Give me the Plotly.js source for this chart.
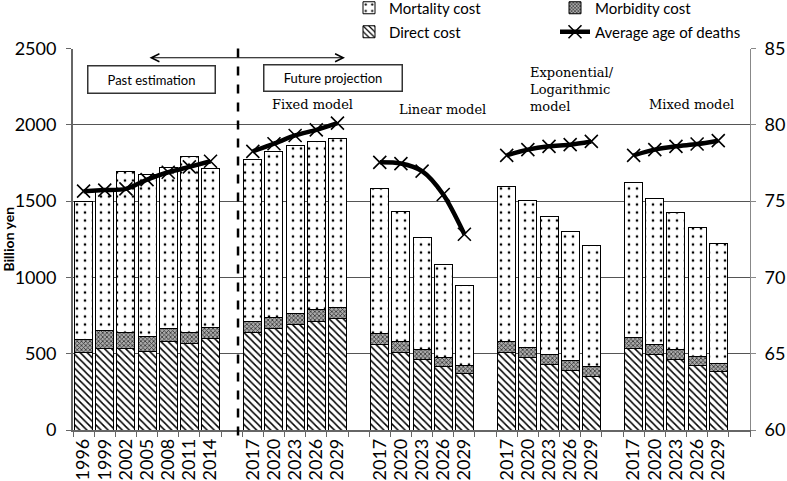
<!DOCTYPE html>
<html><head><meta charset="utf-8">
<script src="https://cdn.plot.ly/plotly-3.0.1.min.js"></script>
<style>html,body{margin:0;padding:0;background:#fff}#chart{width:787px;height:481px}</style>
</head><body><div id="chart"></div>
<script>
// Categories: past estimation years, then four projection models (2017-2029 each)
const yearLabels = ['1996','1999','2002','2005','2008','2011','2014',
  '2017','2020','2023','2026','2029',
  '2017','2020','2023','2026','2029',
  '2017','2020','2023','2026','2029',
  '2017','2020','2023','2026','2029'];
const groupSizes = [7, 5, 5, 5, 5];
const groupNames = ['Past estimation', 'Fixed model', 'Linear model', 'Exponential/<br>Logarithmic<br>model', 'Mixed model'];

// Billion yen
const directCost = [506,533,533,515,580,565,598,
  637,667,691,713,728,
  559,511,463,417,370,
  507,472,430,391,352,
  533,493,463,422,385];
const morbidityCost = [85,119,104,98,87,72,72,
  74,72,74,74,76,
  71,72,63,57,54,
  76,67,66,66,61,
  72,66,63,61,54];
const mortalityCost = [909,913,1059,1059,1055,1153,1041,
  1061,1083,1099,1103,1109,
  953,852,735,613,526,
  1015,965,906,847,794,
  1015,959,902,843,783];
// Years
const avgAgeDeaths = [75.65,75.72,75.80,76.41,76.89,77.24,77.61,
  78.26,78.76,79.30,79.67,80.11,
  77.54,77.46,76.96,75.43,72.83,
  78.00,78.37,78.59,78.70,78.91,
  78.00,78.37,78.59,78.74,78.96];

// slot positions (one empty slot between groups)
const pos = [];
const lineX = [], lineY = [];
let slot = 0, k = 0;
groupSizes.forEach(function(n, g){
  for (let i = 0; i < n; i++) { pos.push(slot); lineX.push(slot); lineY.push(avgAgeDeaths[k]); slot++; k++; }
  if (g < groupSizes.length - 1) { lineX.push(slot); lineY.push(null); }
  slot++;
});
const nSlots = slot - 1;

const FONT = 'Lato, "Open Sans", sans-serif';
const barLine = {color: '#000', width: 1};

const traces = [
  {type:'bar', name:'Direct cost', x:pos, y:directCost, legend:'legend2', legendrank:1,
   marker:{color:'#fff', line:barLine, pattern:{shape:'\\', size:5, solidity:0.3, fgcolor:'#000', bgcolor:'#fff'}}},
  {type:'bar', name:'Morbidity cost', x:pos, y:morbidityCost, legend:'legend', legendrank:2,
   marker:{color:'#fff', line:barLine, pattern:{shape:'x', size:3, solidity:0.45, fgcolor:'#333', bgcolor:'#aaa'}}},
  {type:'bar', name:'Mortality cost', x:pos, y:mortalityCost, legend:'legend', legendrank:1,
   marker:{color:'#fff', line:barLine, pattern:{shape:'.', size:8, solidity:0.09, fgcolor:'#000', bgcolor:'#fff'}}},
  {type:'scatter', mode:'lines+markers', name:'Average age of deaths', x:lineX, y:lineY, yaxis:'y2',
   legend:'legend2', legendrank:2, connectgaps:false,
   line:{color:'#000', width:4.5, shape:'spline', smoothing:0.8},
   marker:{symbol:'x-thin', size:13, color:'#000', line:{color:'#000', width:1.6}}}
];

function px2x(p){ return (p - 73) / 677; }
function px2y(p){ return (430 - p) / 383.3; }

const serif = {family:'"DejaVu Serif", serif', size:13, color:'#000'};
const base = {xref:'paper', yref:'paper', showarrow:false, xanchor:'center', yanchor:'middle'};
const annotations = [
  Object.assign({}, base, {x:px2x(151), y:px2y(78), text:'Past estimation',
   font:{family:FONT, size:13, color:'#000'}, bordercolor:'#333', borderwidth:1.5, borderpad:0, width:126, height:26}),
  Object.assign({}, base, {x:px2x(332.5), y:px2y(76.5), text:'Future projection',
   font:{family:FONT, size:13, color:'#000'}, bordercolor:'#333', borderwidth:1.5, borderpad:0, width:137, height:25}),
  {xref:'paper', yref:'paper', x:px2x(345), y:px2y(56), ax:px2x(148), ay:px2y(56), axref:'paper', ayref:'paper',
   text:'', showarrow:true, arrowside:'end+start', arrowhead:5, arrowsize:1.6, arrowwidth:1, arrowcolor:'#000'},
  Object.assign({}, base, {x:px2x(312), y:px2y(103), text:groupNames[1], font:serif}),
  Object.assign({}, base, {x:px2x(442), y:px2y(108), text:groupNames[2], font:serif}),
  Object.assign({}, base, {x:px2x(528), y:px2y(88), xanchor:'left', align:'left', text:groupNames[3], font:serif}),
  Object.assign({}, base, {x:px2x(691), y:px2y(103), text:groupNames[4], font:serif})
];

const layout = {
  width:787, height:481,
  margin:{l:73, r:37, t:47, b:51},
  paper_bgcolor:'#fff', plot_bgcolor:'#fff',
  barmode:'stack', bargap:0.15,
  showlegend:true,
  font:{family:FONT, color:'#000'},
  xaxis:{type:'linear', range:[-0.5, nSlots + 0.5], tickvals:pos, ticktext:yearLabels, tickangle:-90,
    ticks:'', showgrid:false, zeroline:false, showline:true, linecolor:'#666', linewidth:1.5,
    tickfont:{family:FONT, size:18, color:'#000'},
    minor:{tick0:0.5, dtick:1, ticks:'outside', ticklen:5, tickcolor:'#666', showgrid:false}},
  yaxis:{range:[0,2500], dtick:500, showgrid:true, gridcolor:'#555', gridwidth:1, zeroline:false,
    showline:true, linecolor:'#666', linewidth:2, ticks:'outside', ticklen:5, tickcolor:'#666',
    ticklabelstandoff:6,
    tickfont:{family:FONT, size:18, color:'#000'},
    title:{text:'<b>Billion yen</b>', font:{family:FONT, size:14, color:'#000'}, standoff:4}},
  yaxis2:{overlaying:'y', side:'right', range:[60,85], dtick:5, showgrid:false, zeroline:false,
    showline:true, linecolor:'#888', linewidth:1, ticks:'outside', ticklen:5, tickcolor:'#888',
    ticklabelstandoff:5,
    tickfont:{family:FONT, size:18, color:'#000'}},
  legend:{orientation:'h', xref:'container', yref:'container', x:349/787, xanchor:'left', y:1 - 8/481, yanchor:'middle',
    traceorder:'normal', entrywidth:161, font:{family:FONT, size:15, color:'#000'}, bgcolor:'rgba(0,0,0,0)', tracegroupgap:0},
  legend2:{orientation:'h', xref:'container', yref:'container', x:349/787, xanchor:'left', y:1 - 32/481, yanchor:'middle',
    traceorder:'normal', entrywidth:161, font:{family:FONT, size:15, color:'#000'}, bgcolor:'rgba(0,0,0,0)', tracegroupgap:0},
  shapes:[
    {type:'line', xref:'x', yref:'paper', x0:7.3, x1:7.3, y0:1, y1:-0.028, line:{color:'#000', width:2.5, dash:'dash'}}
  ],
  annotations:annotations,
  hovermode:false
};

Plotly.newPlot('chart', traces, layout, {displayModeBar:false, staticPlot:true});
</script>
</body></html>
